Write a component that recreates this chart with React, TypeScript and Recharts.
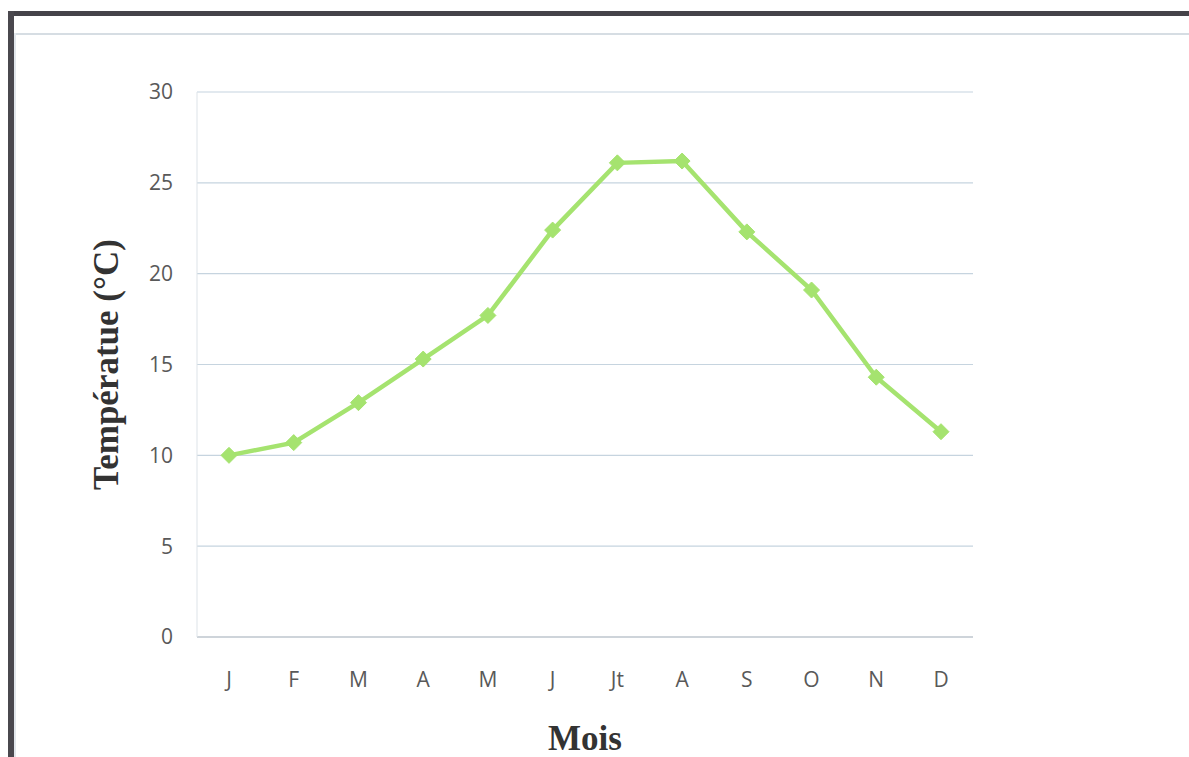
import React from "react";
import {
  CartesianGrid,
  Label,
  Line,
  LineChart,
  XAxis,
  YAxis,
} from "recharts";

const months = ["J", "F", "M", "A", "M", "J", "Jt", "A", "S", "O", "N", "D"];
const temperatures = [10.0, 10.7, 12.9, 15.3, 17.7, 22.4, 26.1, 26.2, 22.3, 19.1, 14.3, 11.3];
const yTicks = [0, 5, 10, 15, 20, 25, 30];

const data = months.map((m, i) => ({ idx: i, month: m, temp: temperatures[i] }));

const lineColor = "#a5e36f";
const gridColor = "#c6d4df";
const tickStyle = { fontFamily: "'Open Sans', sans-serif", fontSize: 21, fill: "#595959" };

function Diamond(props: any) {
  const { cx, cy } = props;
  if (cx == null || cy == null) return null;
  const r = 8;
  return (
    <path
      d={`M${cx},${cy - r}L${cx + r},${cy}L${cx},${cy + r}L${cx - r},${cy}Z`}
      fill={lineColor}
      stroke={lineColor}
      strokeWidth={1}
    />
  );
}

export default function App() {
  return (
    <div style={{ position: "relative", width: 1189, height: 757, background: "#fff" }}>
      <style>{"body{margin:0;overflow:hidden}"}</style>
      {/* frame like the scanned page */}
      <div style={{ position: "absolute", left: 8, top: 11, right: 0, height: 5, background: "#454349" }} />
      <div style={{ position: "absolute", left: 8, top: 11, width: 6, bottom: 0, background: "#4a484e" }} />
      <div style={{ position: "absolute", left: 14, top: 33, right: 0, height: 2, background: "#d6dde3" }} />
      <div style={{ position: "absolute", left: 14, top: 33, width: 2, bottom: 0, background: "#e2e7ec" }} />
      <div style={{ position: "absolute", left: 0, top: 0 }}>
        <LineChart
          width={1189}
          height={757}
          data={data}
          margin={{ top: 92, right: 216, bottom: 40, left: 137 }}
        >
          <CartesianGrid vertical={false} stroke={gridColor} strokeWidth={1.2} />
          <XAxis
            dataKey="month"
            xAxisId={0}
            height={80}
            interval={0}
            padding={{ left: 32, right: 32 }}
            tickLine={false}
            tickSize={0}
            tickMargin={35}
            axisLine={{ stroke: "#b9c0c6", strokeWidth: 1.2 }}
            tick={tickStyle}
          >
            <Label
              value="Mois"
              position="insideBottom"
              offset={-33}
              style={{
                fontFamily: "'Liberation Serif', 'Times New Roman', serif",
                fontWeight: "bold",
                fontSize: 35,
                fill: "#333333",
              }}
            />
          </XAxis>
          <YAxis
            width={60}
            domain={[0, 30]}
            ticks={yTicks}
            tickLine={false}
            tickSize={6}
            tickMargin={18}
            axisLine={{ stroke: "#dde3e8", strokeWidth: 1 }}
            tick={tickStyle}
          >
            <Label
              value="Températue (°C)"
              angle={-90}
              position="insideLeft"
              offset={-31}
              style={{
                textAnchor: "middle",
                fontFamily: "'Liberation Serif', 'Times New Roman', serif",
                fontWeight: "bold",
                fontSize: 35,
                fill: "#333333",
              }}
            />
          </YAxis>
          <Line
            type="linear"
            dataKey="temp"
            stroke={lineColor}
            strokeWidth={4.5}
            dot={<Diamond />}
            activeDot={false}
            isAnimationActive={false}
          />
        </LineChart>
      </div>
    </div>
  );
}
